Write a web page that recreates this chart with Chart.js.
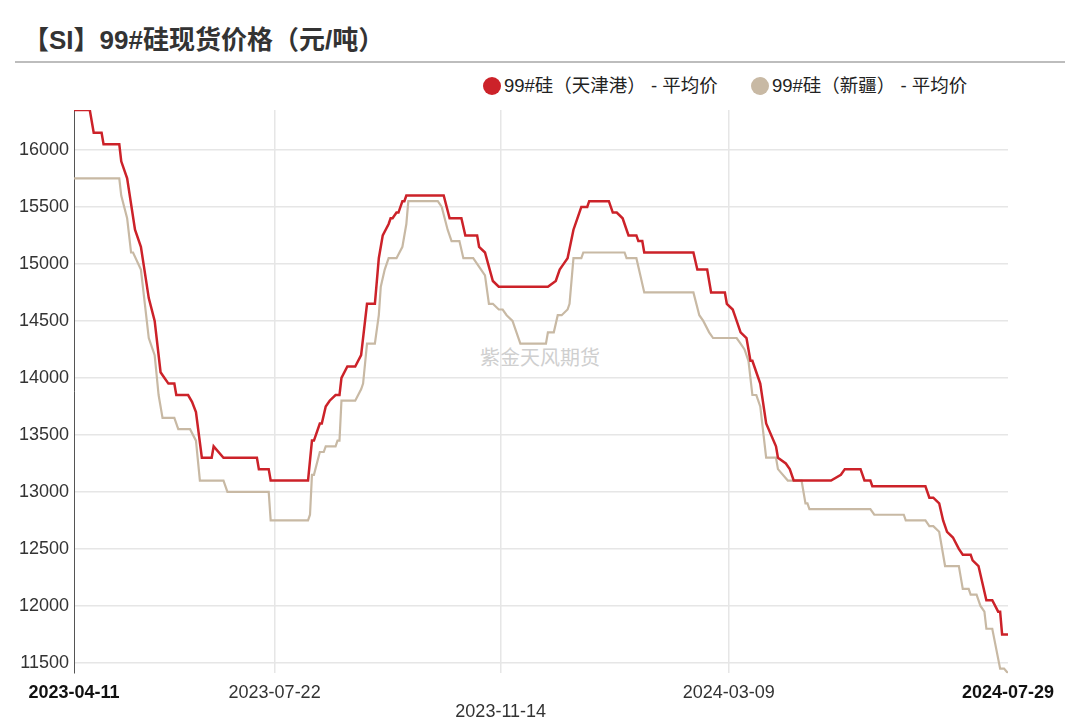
<!DOCTYPE html>
<html>
<head>
<meta charset="utf-8">
<script src="https://cdn.jsdelivr.net/npm/chart.js@4.4.1/dist/chart.umd.min.js"></script>
<style>
  body { margin: 0; background: #fff; font-family: "Liberation Sans", Arial, "Noto Sans CJK SC", sans-serif; }
  #wrap { position: relative; width: 1080px; height: 720px; overflow: hidden; }
  #title { position: absolute; left: 23px; top: 19px; font-size: 26px; font-weight: bold; color: #333; white-space: nowrap; }
  #rule { position: absolute; left: 15px; top: 61px; width: 1050px; height: 2px; background: #bdbdbd; }
  .lg { position: absolute; top: 76px; height: 20px; line-height: 20px; font-size: 18.5px; color: #222; white-space: nowrap; }
  .dot { position: absolute; top: 77px; width: 18px; height: 18px; border-radius: 50%; }
  #wm { position: absolute; left: 480px; top: 342px; font-size: 20px; color: #cfcfcf; white-space: nowrap; }
  #siChart { position: absolute; left: 0; top: 0; }
</style>
</head>
<body>
<div id="wrap">
  <div id="title">【SI】99#硅现货价格（元/吨）</div>
  <div id="rule"></div>
  <div class="dot" style="left:483px;background:#cc2229"></div>
  <div class="lg" style="left:504px">99#硅（天津港） - 平均价</div>
  <div class="dot" style="left:751px;background:#c8b9a4"></div>
  <div class="lg" style="left:772px">99#硅（新疆） - 平均价</div>
  <div id="wm">紫金天风期货</div>
  <canvas id="siChart" width="1080" height="731"></canvas>
</div>
<script>
// x axis: days counted from the first date
const startDate = '2023-04-11';
const tickDates = ['2023-04-11', '2023-07-22', '2023-11-14', '2024-03-09', '2024-07-29'];
const yTicks = [11500, 12000, 12500, 13000, 13500, 14000, 14500, 15000, 15500, 16000];

// 99#硅（天津港） - 平均价
const tjDates = [
  '2023-04-11', '2023-04-19', '2023-04-21', '2023-04-25', '2023-04-26', '2023-05-04', '2023-05-05', '2023-05-08',
  '2023-05-12', '2023-05-15', '2023-05-19', '2023-05-22', '2023-05-25', '2023-05-27', '2023-05-29', '2023-06-01',
  '2023-06-02', '2023-06-08', '2023-06-10', '2023-06-12', '2023-06-15', '2023-06-20', '2023-06-21', '2023-06-26',
  '2023-07-13', '2023-07-14', '2023-07-19', '2023-07-20', '2023-08-08', '2023-08-10', '2023-08-11', '2023-08-14',
  '2023-08-15', '2023-08-17', '2023-08-19', '2023-08-22', '2023-08-24', '2023-08-25', '2023-08-28', '2023-09-01',
  '2023-09-04', '2023-09-07', '2023-09-11', '2023-09-13', '2023-09-15', '2023-09-18', '2023-09-19', '2023-09-20',
  '2023-09-22', '2023-09-23', '2023-09-25', '2023-09-26', '2023-09-27', '2023-10-16', '2023-10-19', '2023-10-25',
  '2023-10-27', '2023-11-02', '2023-11-03', '2023-11-06', '2023-11-10', '2023-11-13', '2023-12-08', '2023-12-12',
  '2023-12-14', '2023-12-16', '2023-12-18', '2023-12-21', '2023-12-23', '2023-12-25', '2023-12-28', '2023-12-29',
  '2024-01-08', '2024-01-10', '2024-01-12', '2024-01-15', '2024-01-16', '2024-01-18', '2024-01-22', '2024-01-23',
  '2024-01-25', '2024-01-26', '2024-02-20', '2024-02-22', '2024-02-27', '2024-02-29', '2024-03-07', '2024-03-08',
  '2024-03-11', '2024-03-12', '2024-03-15', '2024-03-18', '2024-03-20', '2024-03-21', '2024-03-23', '2024-03-25',
  '2024-03-28', '2024-04-02', '2024-04-03', '2024-04-07', '2024-04-09', '2024-04-11', '2024-04-30', '2024-05-05',
  '2024-05-07', '2024-05-15', '2024-05-17', '2024-05-20', '2024-05-21', '2024-06-17', '2024-06-19', '2024-06-21',
  '2024-06-24', '2024-06-26', '2024-06-28', '2024-07-01', '2024-07-04', '2024-07-06', '2024-07-10', '2024-07-11',
  '2024-07-14', '2024-07-18', '2024-07-21', '2024-07-24', '2024-07-25', '2024-07-26', '2024-07-29'
];
const tjPrices = [
  16350, 16350, 16150, 16150, 16050, 16050, 15900, 15750,
  15300, 15150, 14700, 14500, 14050, 14000, 13950, 13950,
  13850, 13850, 13790, 13700, 13300, 13300, 13400, 13300,
  13300, 13200, 13200, 13100, 13100, 13450, 13450, 13600,
  13600, 13750, 13800, 13850, 13850, 14000, 14100, 14100,
  14200, 14650, 14650, 15050, 15250, 15350, 15400, 15400,
  15450, 15450, 15550, 15550, 15600, 15600, 15400, 15400,
  15250, 15250, 15150, 15100, 14850, 14800, 14800, 14850,
  14950, 15000, 15050, 15300, 15400, 15500, 15500, 15550,
  15550, 15450, 15450, 15400, 15350, 15250, 15250, 15200,
  15200, 15100, 15100, 14950, 14950, 14750, 14750, 14650,
  14600, 14550, 14400, 14350, 14150, 14150, 14050, 13950,
  13600, 13400, 13300, 13250, 13200, 13100, 13100, 13150,
  13200, 13200, 13100, 13100, 13050, 13050, 12950, 12950,
  12900, 12750, 12650, 12600, 12500, 12450, 12450, 12400,
  12350, 12050, 12050, 11950, 11950, 11750, 11750
];

// 99#硅（新疆） - 平均价
const xjDates = [
  '2023-04-11', '2023-05-04', '2023-05-05', '2023-05-08', '2023-05-10', '2023-05-11', '2023-05-15', '2023-05-19',
  '2023-05-22', '2023-05-24', '2023-05-26', '2023-06-01', '2023-06-03', '2023-06-09', '2023-06-12', '2023-06-14',
  '2023-06-26', '2023-06-28', '2023-07-19', '2023-07-20', '2023-08-08', '2023-08-09', '2023-08-10', '2023-08-11',
  '2023-08-14', '2023-08-16', '2023-08-17', '2023-08-22', '2023-08-23', '2023-08-24', '2023-08-25', '2023-09-01',
  '2023-09-04', '2023-09-05', '2023-09-07', '2023-09-11', '2023-09-13', '2023-09-14', '2023-09-16', '2023-09-18',
  '2023-09-22', '2023-09-25', '2023-09-27', '2023-09-28', '2023-10-13', '2023-10-15', '2023-10-18', '2023-10-20',
  '2023-10-24', '2023-10-26', '2023-10-31', '2023-11-02', '2023-11-06', '2023-11-08', '2023-11-10', '2023-11-13',
  '2023-11-15', '2023-11-17', '2023-11-20', '2023-11-21', '2023-11-24', '2023-12-07', '2023-12-08', '2023-12-11',
  '2023-12-13', '2023-12-15', '2023-12-18', '2023-12-19', '2023-12-21', '2023-12-25', '2023-12-26', '2024-01-16',
  '2024-01-17', '2024-01-22', '2024-01-24', '2024-01-26', '2024-02-20', '2024-02-23', '2024-02-25', '2024-02-28',
  '2024-03-01', '2024-03-13', '2024-03-15', '2024-03-17', '2024-03-19', '2024-03-21', '2024-03-23', '2024-03-25',
  '2024-03-28', '2024-04-02', '2024-04-03', '2024-04-08', '2024-04-15', '2024-04-17', '2024-04-18', '2024-04-19',
  '2024-05-20', '2024-05-22', '2024-06-06', '2024-06-07', '2024-06-17', '2024-06-19', '2024-06-21', '2024-06-24',
  '2024-06-27', '2024-07-04', '2024-07-06', '2024-07-09', '2024-07-10', '2024-07-13', '2024-07-15', '2024-07-17',
  '2024-07-18', '2024-07-21', '2024-07-25', '2024-07-27', '2024-07-29'
];
const xjPrices = [
  15750, 15750, 15600, 15400, 15100, 15100, 14950, 14350,
  14200, 13850, 13650, 13650, 13550, 13550, 13450, 13100,
  13100, 13000, 13000, 12750, 12750, 12800, 13150, 13150,
  13350, 13350, 13400, 13400, 13450, 13450, 13800, 13800,
  13900, 13950, 14300, 14300, 14550, 14800, 14950, 15050,
  15050, 15150, 15350, 15550, 15550, 15500, 15300, 15200,
  15200, 15050, 15050, 15000, 14900, 14650, 14650, 14600,
  14600, 14550, 14500, 14450, 14300, 14300, 14400, 14400,
  14550, 14550, 14600, 14650, 15050, 15050, 15100, 15100,
  15050, 15050, 14900, 14750, 14750, 14550, 14500, 14400,
  14350, 14350, 14300, 14250, 14150, 13850, 13850, 13750,
  13300, 13300, 13200, 13100, 13100, 12900, 12900, 12850,
  12850, 12800, 12800, 12750, 12750, 12700, 12700, 12650,
  12350, 12350, 12150, 12150, 12100, 12100, 12000, 11950,
  11800, 11800, 11450, 11450, 11410
];

const DAY = 86400000;
const dayIndex = d => Math.round((Date.parse(d) - Date.parse(startDate)) / DAY);
const toPoints = (dates, prices) => dates.map((d, i) => ({ x: dayIndex(d), y: prices[i] }));

Chart.defaults.font.family = '"Liberation Sans", Arial, "Noto Sans CJK SC", sans-serif';

const lastTick = tickDates.length - 1;

new Chart(document.getElementById('siChart'), {
  type: 'line',
  data: {
    datasets: [
      {
        label: '99#硅（天津港） - 平均价',
        data: toPoints(tjDates, tjPrices),
        borderColor: '#cc2229',
        borderWidth: 2.5
      },
      {
        label: '99#硅（新疆） - 平均价',
        data: toPoints(xjDates, xjPrices),
        borderColor: '#c8b9a4',
        borderWidth: 2.2
      }
    ]
  },
  options: {
    responsive: false,
    animation: false,
    layout: { padding: { top: 110, left: 14, right: 72, bottom: 0 } },
    plugins: { legend: { display: false }, tooltip: { enabled: false } },
    elements: { point: { radius: 0 }, line: { tension: 0 } },
    scales: {
      x: {
        type: 'linear',
        min: 0,
        max: dayIndex(tickDates[lastTick]),
        afterBuildTicks: scale => {
          scale.ticks = tickDates.map(d => ({ value: dayIndex(d) }));
        },
        border: { display: false },
        grid: {
          drawTicks: false,
          lineWidth: 1.5,
          color: ctx => (ctx.index > 0 && ctx.index < lastTick) ? '#e6e6e6' : 'rgba(0,0,0,0)'
        },
        ticks: {
          autoSkip: false,
          maxRotation: 0,
          padding: 10,
          color: ctx => (ctx.index === 0 || ctx.index === lastTick) ? '#111' : '#333',
          font: ctx => ({
            size: 18,
            lineHeight: 1.05,
            weight: (ctx.index === 0 || ctx.index === lastTick) ? 'bold' : 'normal'
          }),
          callback: (v, i) => i === 2 ? ['', tickDates[i]] : tickDates[i]
        }
      },
      y: {
        min: 11410,
        max: 16350,
        afterBuildTicks: scale => {
          scale.ticks = yTicks.map(v => ({ value: v }));
        },
        border: { color: '#555', width: 1 },
        grid: { drawTicks: false, lineWidth: 1.5, color: '#e6e6e6' },
        ticks: {
          padding: 5,
          color: '#333',
          font: { size: 18 },
          callback: v => String(v)
        }
      }
    }
  }
});
</script>
</body>
</html>
